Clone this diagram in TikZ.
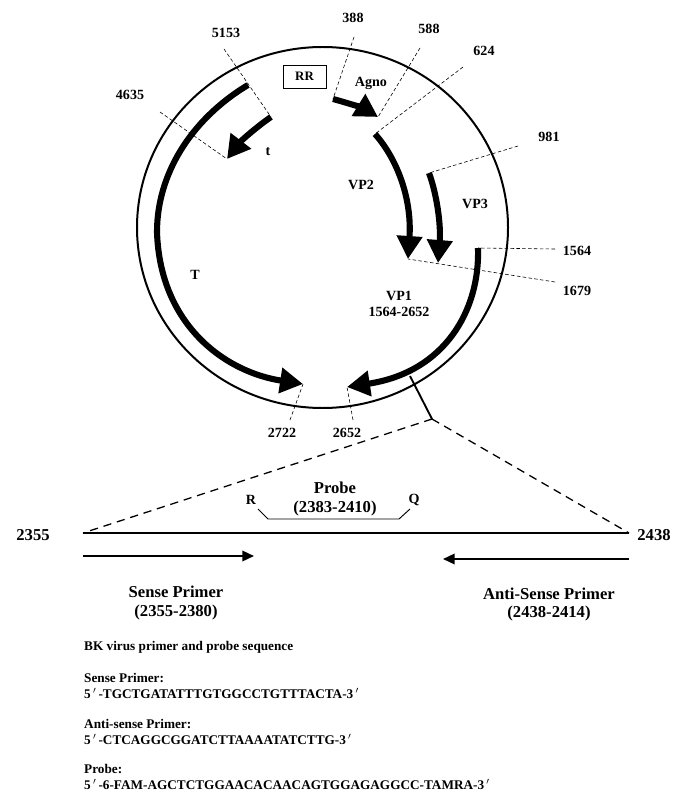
\documentclass[tikz,border=0pt]{standalone}
\usepackage{fontspec}
\setmainfont{Liberation Serif}
\usetikzlibrary{arrows.meta}
\newcommand{\prm}{\,\smash{$^{\prime}$}\,}
\begin{document}
\begin{tikzpicture}[x=0.03cm,y=-0.03cm,
  lab/.style={font=\bfseries\fontsize{12}{12}\selectfont,inner sep=0pt},
  biglab/.style={font=\bfseries\fontsize{14.2}{14.2}\selectfont,inner sep=0pt},
  seqlab/.style={font=\bfseries\fontsize{11.3}{11.3}\selectfont,inner sep=0pt,anchor=west},
  tick/.style={densely dashed,line width=0.5pt},
  gene/.style={line width=5.2pt,-{Triangle[length=19.6pt,width=21pt]}},
  primer/.style={line width=1.6pt,-{Triangle[length=10pt,width=9pt]}},
  zoomline/.style={dashed,line width=1.1pt,dash pattern=on 7pt off 5pt}]
  \useasboundingbox (0,0) rectangle (673,792);
  % Genome
  \draw[line width=1.7pt] (322.5,227.5) ellipse [x radius=185.5,y radius=180.5];
  \node[draw,line width=0.5pt,minimum width=36.5pt,minimum height=19.5pt,inner sep=0pt,font=\bfseries\fontsize{11}{11}\selectfont] (rr) at (304.5,76.5) {RR};
  % Ends of the tick lines
  \coordinate (t5153a) at (224,49);
  \coordinate (t5153b) at (271,117);
  \coordinate (t4635a) at (160,112);
  \coordinate (t4635b) at (227,159);
  \coordinate (a388) at (354,37);
  \coordinate (b388) at (333,99);
  \coordinate (a588) at (420,48);
  \coordinate (b588) at (378,117);
  \coordinate (a624) at (463,67);
  \coordinate (b624) at (375,134);
  \coordinate (a981) at (518,146);
  \coordinate (b981) at (429,173);
  \coordinate (a1564) at (555,249);
  \coordinate (b1564) at (478,248);
  \coordinate (a1679) at (555,282);
  \coordinate (b1679) at (408,259);
  \coordinate (a2722) at (290,420);
  \coordinate (b2722) at (303,384);
  \coordinate (a2652) at (353,420);
  \coordinate (b2652) at (347,387);
  \coordinate (tstart) at (248,85);
  % Ticks
  \draw[tick] (t5153a) -- (t5153b);
  \draw[tick] (t4635a) -- (t4635b);
  \draw[tick] (a388) -- (b388);
  \draw[tick] (a588) -- (b588);
  \draw[tick] (a624) -- (b624);
  \draw[tick] (a981) -- (b981);
  \draw[tick] (a1564) -- (b1564);
  \draw[tick] (a1679) -- (b1679);
  \draw[tick] (a2722) -- (b2722);
  \draw[tick] (a2652) -- (b2652);
  % Genes
  \draw[gene] (tstart) .. controls (190,120) and (157,175) .. (157,232) .. controls (160,325) and (225,372) .. (b2722);
  \draw[gene] (t5153b) .. controls (255,128) and (240,142) .. (t4635b);
  \draw[gene] (b388) .. controls (348,103) and (365,109) .. (b588);
  \draw[gene] (b624) .. controls (398,160) and (412,200) .. (b1679);
  \draw[gene] (b981) .. controls (437,195) and (441,225) .. (438,263);
  \draw[gene] (b1564) .. controls (480,310) and (445,372) .. (b2652);
  % Position labels
  \node[lab] (n5153) at (226,33) {5153};
  \node[lab] (n4635) at (130,95) {4635};
  \node[lab] (n388) at (353,18) {388};
  \node[lab] (n588) at (429,29) {588};
  \node[lab] (n624) at (484,51) {624};
  \node[lab] (n981) at (549,137) {981};
  \node[lab] (n1564) at (577,251) {1564};
  \node[lab] (n1679) at (577,291) {1679};
  \node[lab] (n2722) at (282,433) {2722};
  \node[lab] (n2652) at (347,433) {2652};
  % Gene labels
  \node[lab] (agno) at (371,83) {Agno};
  \node[lab] (tsmall) at (268,152) {t};
  \node[lab] (vp2) at (361,185) {VP2};
  \node[lab] (vp3) at (475,204) {VP3};
  \node[lab] (tbig) at (195,275) {T};
  \node[lab] (vp1) at (399,296) {VP1};
  \node[lab] (vp1pos) at (399,312) {1564-2652};
  % Enlarged region
  \coordinate (stem) at (410,376);
  \coordinate (apex) at (432,419);
  \coordinate (left) at (83,533);
  \coordinate (right) at (629,533);
  \draw[line width=1.6pt] (stem) -- (apex);
  \draw[zoomline] (apex) -- (left);
  \draw[zoomline] (apex) -- (right);
  \draw[line width=1.3pt] (left) -- (right);
  \node[biglab] (n2355) at (33,535) {2355};
  \node[biglab] (n2438) at (654,535) {2438};
  % Probe
  \node[biglab] (probe) at (335,488) {Probe};
  \node[biglab] (probepos) at (335,508) {(2383-2410)};
  \node[lab] (rlab) at (251,500) {R};
  \node[lab] (qlab) at (414,500) {Q};
  \coordinate (pa) at (258,509);
  \coordinate (pb) at (268,519);
  \coordinate (pc) at (399,519);
  \coordinate (pd) at (410,509);
  \draw[line width=0.8pt] (pa) -- (pb) -- (pc) -- (pd);
  % Primers
  \coordinate (sa) at (83,556);
  \coordinate (sb) at (254,556);
  \coordinate (aa) at (629,559);
  \coordinate (ab) at (443,559);
  \draw[primer] (sa) -- (sb);
  \draw[primer] (aa) -- (ab);
  \node[biglab] (sense) at (176,592) {Sense Primer};
  \node[biglab] (sensepos) at (176,612) {(2355-2380)};
  \node[biglab] (anti) at (549,594) {Anti-Sense Primer};
  \node[biglab] (antipos) at (549,613) {(2438-2414)};
  % Sequences
  \node[seqlab] (title) at (84,647) {BK virus primer and probe sequence};
  \node[seqlab] (s1) at (84,678) {Sense Primer:};
  \node[seqlab] (s2) at (84,694) {5\prm-TGCTGATATTTGTGGCCTGTTTACTA-3\prm};
  \node[seqlab] (a1) at (84,724) {Anti-sense Primer:};
  \node[seqlab] (a2) at (84,740) {5\prm-CTCAGGCGGATCTTAAAATATCTTG-3\prm};
  \node[seqlab] (p1) at (84,769) {Probe:};
  \node[seqlab] (p2) at (84,785) {5\prm-6-FAM-AGCTCTGGAACACAACAGTGGAGAGGCC-TAMRA-3\prm};
\end{tikzpicture}
\end{document}
